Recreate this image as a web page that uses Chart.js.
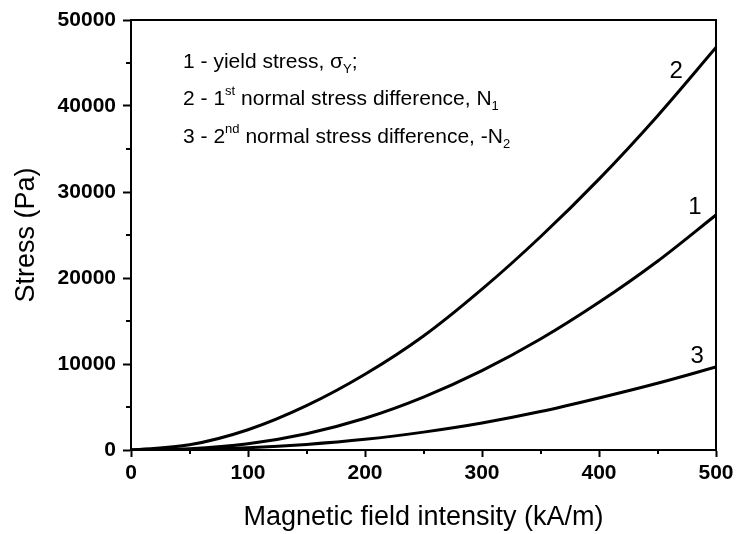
<!DOCTYPE html>
<html>
<head>
<meta charset="utf-8">
<title>Stress vs magnetic field</title>
<script src="https://cdn.jsdelivr.net/npm/chart.js@4.4.0/dist/chart.umd.min.js"></script>
<style>
  html, body { margin: 0; padding: 0; background: #fff; }
  #wrap { width: 736px; height: 534px; position: relative; }
</style>
</head>
<body>
<div id="wrap"><canvas id="stressChart"></canvas></div>
<script>
// magnetic field intensity (kA/m)
const fieldValues = [0, 50, 100, 150, 200, 250, 300, 350, 400, 450, 500];

// curve 1 - yield stress (Pa)
const yieldStress = [0, 150, 730, 1900, 3690, 6150, 9220, 12900, 17170, 21950, 27330];
// curve 2 - 1st normal stress difference N1 (Pa)
const firstNormalDiff = [0, 600, 2350, 5150, 8800, 13250, 18700, 24800, 31500, 38850, 46800];
// curve 3 - 2nd normal stress difference -N2 (Pa)
const secondNormalDiff = [0, 50, 260, 650, 1240, 2080, 3140, 4470, 6050, 7760, 9650];

const xTicks = [0, 100, 200, 300, 400, 500];
const xMinorTicks = [50, 150, 250, 350, 450];
const yTicks = [0, 10000, 20000, 30000, 40000, 50000];
const yMinorTicks = [5000, 15000, 25000, 35000, 45000];

const FONT = '"Liberation Sans", Arial, sans-serif';

function toPoints(ys) {
    return fieldValues.map((x, i) => ({ x: x, y: ys[i] }));
}

function curve(label, ys) {
    return {
        label: label,
        data: toPoints(ys),
        borderColor: '#000',
        borderWidth: 3,
        pointRadius: 0,
        fill: false,
        cubicInterpolationMode: 'monotone'
    };
}

// draws one line of text made of runs: [text, 'n' | 'sup' | 'sub']
function drawRuns(ctx, runs, x, y) {
    runs.forEach(r => {
        let dy = 0;
        if (r[1] === 'sup') { ctx.font = '13px ' + FONT; dy = -10; }
        else if (r[1] === 'sub') { ctx.font = '13px ' + FONT; dy = 5; }
        else { ctx.font = '21px ' + FONT; }
        ctx.fillText(r[0], x, y + dy);
        x += ctx.measureText(r[0]).width;
    });
}

const annotations = {
    id: 'annotations',
    afterDraw(chart) {
        const ctx = chart.ctx;
        const xs = chart.scales.x, ys = chart.scales.y;
        const area = chart.chartArea;
        ctx.save();

        // frame: top and right edges
        ctx.strokeStyle = '#000';
        ctx.lineWidth = 2;
        ctx.beginPath();
        ctx.moveTo(area.left, area.top);
        ctx.lineTo(area.right, area.top);
        ctx.lineTo(area.right, area.bottom);
        ctx.stroke();

        // minor ticks
        ctx.lineWidth = 2;
        ctx.beginPath();
        xMinorTicks.forEach(v => {
            const px = Math.round(xs.getPixelForValue(v));
            ctx.moveTo(px, area.bottom);
            ctx.lineTo(px, area.bottom + 4);
        });
        yMinorTicks.forEach(v => {
            const py = Math.round(ys.getPixelForValue(v));
            ctx.moveTo(area.left, py);
            ctx.lineTo(area.left - 5, py);
        });
        ctx.stroke();

        // legend text
        ctx.fillStyle = '#000';
        ctx.textBaseline = 'alphabetic';
        ctx.textAlign = 'left';
        const lx = xs.getPixelForValue(44.5);
        drawRuns(ctx, [['1 - yield stress, ', 'n'], ['\u03C3', 'n'], ['Y', 'sub'], [';', 'n']],
            lx, ys.getPixelForValue(44450));
        drawRuns(ctx, [['2 - 1', 'n'], ['st', 'sup'], [' normal stress difference, N', 'n'], ['1', 'sub']],
            lx, ys.getPixelForValue(40100));
        drawRuns(ctx, [['3 - 2', 'n'], ['nd', 'sup'], [' normal stress difference, -N', 'n'], ['2', 'sub']],
            lx, ys.getPixelForValue(35730));

        // curve numbers
        ctx.font = '24px ' + FONT;
        ctx.textAlign = 'center';
        ctx.textBaseline = 'middle';
        ctx.fillText('2', xs.getPixelForValue(466), ys.getPixelForValue(44000));
        ctx.fillText('1', xs.getPixelForValue(482), ys.getPixelForValue(28200));
        ctx.fillText('3', xs.getPixelForValue(484), ys.getPixelForValue(10900));
        ctx.restore();
    }
};

document.addEventListener('DOMContentLoaded', function() {
    const ctx = document.getElementById('stressChart').getContext('2d');

    new Chart(ctx, {
        type: 'line',
        data: {
            datasets: [
                curve('1 - yield stress', yieldStress),
                curve('2 - 1st normal stress difference', firstNormalDiff),
                curve('3 - 2nd normal stress difference', secondNormalDiff)
            ]
        },
        options: {
            responsive: true,
            maintainAspectRatio: false,
            animation: false,
            devicePixelRatio: 1,
            layout: { padding: { top: 20, right: 20, left: 0, bottom: 0 } },
            plugins: {
                legend: { display: false },
                tooltip: { enabled: false }
            },
            scales: {
                x: {
                    type: 'linear',
                    min: 0,
                    max: 500,
                    afterBuildTicks: s => { s.ticks = xTicks.map(v => ({ value: v })); },
                    afterFit: s => { s.height = 84; s.paddingLeft = 0; s.paddingRight = 0; },
                    grid: {
                        drawOnChartArea: false,
                        drawTicks: true,
                        tickLength: 7,
                        tickWidth: 2,
                        tickColor: '#000'
                    },
                    border: { display: true, color: '#000', width: 2 },
                    ticks: {
                        color: '#000',
                        padding: 4,
                        maxRotation: 0,
                        callback: v => String(v),
                        font: { family: FONT, size: 21, weight: 'bold' }
                    },
                    title: {
                        display: true,
                        text: 'Magnetic field intensity (kA/m)',
                        color: '#000',
                        padding: { top: 0, bottom: 0 },
                        font: { family: FONT, size: 27 }
                    }
                },
                y: {
                    type: 'linear',
                    min: 0,
                    max: 50000,
                    afterBuildTicks: s => { s.ticks = yTicks.map(v => ({ value: v })); },
                    afterFit: s => { s.width = 131; s.paddingTop = 0; s.paddingBottom = 0; },
                    grid: {
                        drawOnChartArea: false,
                        drawTicks: true,
                        tickLength: 8,
                        tickWidth: 2,
                        tickColor: '#000'
                    },
                    border: { display: true, color: '#000', width: 2 },
                    ticks: {
                        color: '#000',
                        padding: 7,
                        callback: v => String(v),
                        font: { family: FONT, size: 21, weight: 'bold' }
                    },
                    title: {
                        display: true,
                        text: 'Stress (Pa)',
                        color: '#000',
                        padding: { top: 10, bottom: 0 },
                        font: { family: FONT, size: 27 }
                    }
                }
            }
        },
        plugins: [annotations]
    });
});
</script>
</body>
</html>
